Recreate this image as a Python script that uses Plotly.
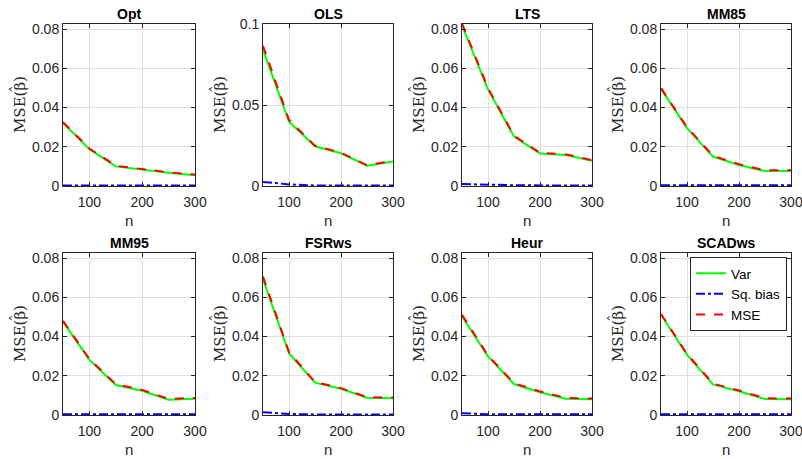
import plotly.graph_objects as go

n_vals = [50, 100, 150, 200, 250, 300]
methods = ["Opt", "OLS", "LTS", "MM85", "MM95", "FSRws", "Heur", "SCADws"]

var_opt = [0.0322, 0.0188, 0.0100, 0.0082, 0.0067, 0.0055]
bias_opt = [0.0003, 0.0003, 0.0003, 0.0003, 0.0003, 0.0003]
mse_opt = [0.0325, 0.0191, 0.0103, 0.0085, 0.0070, 0.0058]

var_ols = [0.0841, 0.0397, 0.0245, 0.0202, 0.0125, 0.0152]
bias_ols = [0.0025, 0.0010, 0.0003, 0.0003, 0.0003, 0.0003]
mse_ols = [0.0866, 0.0407, 0.0248, 0.0205, 0.0128, 0.0155]

var_lts = [0.0819, 0.0493, 0.0252, 0.0166, 0.0158, 0.0129]
bias_lts = [0.0010, 0.0006, 0.0004, 0.0003, 0.0003, 0.0003]
mse_lts = [0.0829, 0.0499, 0.0256, 0.0169, 0.0161, 0.0132]

var_mm85 = [0.0495, 0.0295, 0.0150, 0.0107, 0.0076, 0.0076]
bias_mm85 = [0.0004, 0.0004, 0.0004, 0.0004, 0.0004, 0.0004]
mse_mm85 = [0.0499, 0.0299, 0.0154, 0.0111, 0.0080, 0.0080]

var_mm95 = [0.0476, 0.0281, 0.0153, 0.0124, 0.0078, 0.0083]
bias_mm95 = [0.0004, 0.0004, 0.0004, 0.0004, 0.0004, 0.0004]
mse_mm95 = [0.0480, 0.0285, 0.0157, 0.0128, 0.0082, 0.0087]

var_fsr = [0.0692, 0.0315, 0.0165, 0.0134, 0.0088, 0.0086]
bias_fsr = [0.0014, 0.0005, 0.0003, 0.0003, 0.0003, 0.0003]
mse_fsr = [0.0706, 0.0320, 0.0168, 0.0137, 0.0091, 0.0089]

var_heur = [0.0502, 0.0299, 0.0158, 0.0116, 0.0083, 0.0080]
bias_heur = [0.0009, 0.0004, 0.0004, 0.0004, 0.0004, 0.0004]
mse_heur = [0.0511, 0.0303, 0.0162, 0.0120, 0.0087, 0.0084]

var_scad = [0.0511, 0.0307, 0.0156, 0.0121, 0.0081, 0.0080]
bias_scad = [0.0004, 0.0004, 0.0004, 0.0004, 0.0004, 0.0004]
mse_scad = [0.0515, 0.0311, 0.0160, 0.0125, 0.0085, 0.0084]

x_ticks = [100, 200, 300]
x_ticklabels = ["100", "200", "300"]
y_ticks_std = [0, 0.02, 0.04, 0.06, 0.08]
y_ticklabels_std = ["0", "0.02", "0.04", "0.06", "0.08"]
y_ticks_ols = [0, 0.05, 0.1]
y_ticklabels_ols = ["0", "0.05", "0.1"]
y_max_std = 0.0826
y_max_ols = 0.1
y_label = "MSE(\u03b2)"
y_label_hat = "\u02c6"

series = [
    (var_opt, bias_opt, mse_opt),
    (var_ols, bias_ols, mse_ols),
    (var_lts, bias_lts, mse_lts),
    (var_mm85, bias_mm85, mse_mm85),
    (var_mm95, bias_mm95, mse_mm95),
    (var_fsr, bias_fsr, mse_fsr),
    (var_heur, bias_heur, mse_heur),
    (var_scad, bias_scad, mse_scad),
]

W, H = 802, 459
col_px = [(63, 195), (263, 393), (462, 592), (661, 791)]
row_px = [(24, 186), (253, 415)]


def px_x(p):
    return p / W


def px_y(p):
    return 1 - p / H


AX = "#262626"
GRID = "#dfdfdf"
FONT = "Liberation Sans, Arial, sans-serif"
SERIF = "DejaVu Serif, Liberation Serif, serif"

fig = go.Figure()
annotations = []

for i, name in enumerate(methods):
    r, c = divmod(i, 4)
    k = i + 1
    xa = "x" if k == 1 else f"x{k}"
    ya = "y" if k == 1 else f"y{k}"
    v, b, m = series[i]
    show = (i == 7)
    fig.add_trace(go.Scatter(x=n_vals, y=v, mode="lines", name="Var",
                             line=dict(color="#00ff00", width=2), xaxis=xa, yaxis=ya,
                             showlegend=show))
    fig.add_trace(go.Scatter(x=n_vals, y=b, mode="lines", name="Sq. bias",
                             line=dict(color="#0000ff", width=2, dash="dashdot"),
                             xaxis=xa, yaxis=ya, showlegend=show))
    fig.add_trace(go.Scatter(x=n_vals, y=m, mode="lines", name="MSE",
                             line=dict(color="#ff0000", width=2, dash="dash"),
                             xaxis=xa, yaxis=ya, showlegend=show))
    x0, x1 = col_px[c]
    y0, y1 = row_px[r]
    xdom = [px_x(x0), px_x(x1)]
    ydom = [px_y(y1), px_y(y0)]
    is_ols = name == "OLS"
    common = dict(showline=True, linecolor=AX, linewidth=1, mirror="ticks",
                  ticks="inside", ticklen=4, tickcolor=AX, showgrid=True,
                  gridcolor=GRID, gridwidth=1, zeroline=False, automargin=False,
                  ticklabeloverflow="allow",
                  tickfont=dict(family=FONT, size=14, color=AX))
    fig.layout[("xaxis" if k == 1 else f"xaxis{k}")] = dict(
        domain=xdom, anchor=ya, range=[50, 300], tickvals=x_ticks,
        ticktext=x_ticklabels, ticklabelstandoff=3, **common)
    fig.layout[("yaxis" if k == 1 else f"yaxis{k}")] = dict(
        domain=ydom, anchor=xa,
        range=[0, y_max_ols if is_ols else y_max_std],
        tickvals=y_ticks_ols if is_ols else y_ticks_std,
        ticktext=y_ticklabels_ols if is_ols else y_ticklabels_std, **common)
    cx = px_x((x0 + x1) / 2)
    annotations.append(dict(text=f"<b>{name}</b>", x=cx, y=px_y(y0 - 10),
                            xref="paper", yref="paper", showarrow=False,
                            xanchor="center", yanchor="middle",
                            font=dict(family=FONT, size=14, color="black")))
    annotations.append(dict(text="n", x=cx, y=px_y(y1 + 34),
                            xref="paper", yref="paper", showarrow=False,
                            xanchor="center", yanchor="middle",
                            font=dict(family=FONT, size=15, color=AX)))
    lx = x0 - 43
    ly = (y0 + y1) / 2
    annotations.append(dict(text=y_label, x=px_x(lx), y=px_y(ly),
                            xref="paper", yref="paper", showarrow=False,
                            textangle=-90, xanchor="center", yanchor="middle",
                            font=dict(family=SERIF, size=15, color=AX)))
    annotations.append(dict(text=y_label_hat, x=px_x(lx - 4), y=px_y(ly - 16),
                            xref="paper", yref="paper", showarrow=False,
                            textangle=-90, xanchor="center", yanchor="middle",
                            font=dict(family=SERIF, size=15, color=AX)))

fig.update_layout(
    template="none",
    width=W, height=H, margin=dict(l=0, r=0, t=0, b=0, autoexpand=False),
    paper_bgcolor="white", plot_bgcolor="white",
    annotations=annotations,
    legend=dict(x=px_x(787), y=px_y(257), xanchor="right", yanchor="top",
                bgcolor="white", bordercolor=AX, borderwidth=1,
                font=dict(family=FONT, size=13.5, color="black"),
                tracegroupgap=0, itemwidth=30),
)

# remove the page's default body margin so the figure fills the window exactly
page_js = ("document.body.style.margin='0';"
           "document.documentElement.style.overflow='hidden';"
           "document.body.style.overflow='hidden';")

fig.write_html("out.html", post_script=page_js,
               config={"displayModeBar": False})
